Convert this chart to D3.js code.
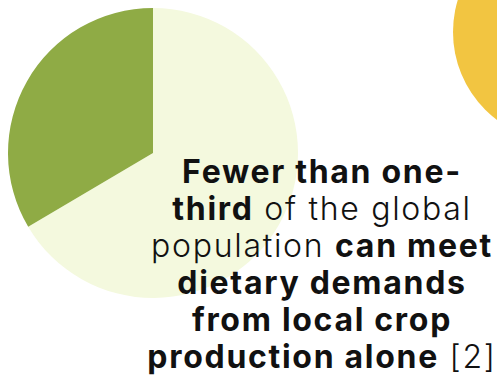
<!DOCTYPE html>
<html>
<head>
<meta charset="utf-8">
<script src="https://cdn.jsdelivr.net/npm/d3@7"></script>
<style>
  html, body { margin: 0; padding: 0; background: #ffffff; }
  svg { display: block; }
</style>
</head>
<body>
<svg id="chart" width="497" height="378"></svg>
<script>
// Share of the global population, by whether local crop production meets dietary demand
const categories = ["Cannot meet demand locally", "Can meet demand locally"];
const shares = [66.5, 33.5];
const sliceColors = ["#f4f9de", "#8fab45"];

// Caption lines; each segment is [text, bold?]
const captionLines = [
  [["Fewer than one-", true]],
  [["third", true], [" of the global", false]],
  [["population ", false], ["can meet", true]],
  [["dietary demands", true]],
  [["from local crop", true]],
  [["production alone", true], [" [2]", false]]
];

const svg = d3.select("#chart");

// Decorative accent circle at the top-right corner
svg.append("circle")
  .attr("cx", 563).attr("cy", 32).attr("r", 110)
  .attr("fill", "#f2c541");

// Pie
const cx = 153, cy = 153, radius = 145;
const pie = d3.pie().sort(null).value(d => d.value);
const arc = d3.arc().innerRadius(0).outerRadius(radius);
const data = categories.map((c, i) => ({ name: c, value: shares[i] }));

const color = d3.scaleOrdinal().domain(categories).range(sliceColors);

svg.append("g")
  .attr("transform", `translate(${cx},${cy})`)
  .selectAll("path")
  .data(pie(data))
  .join("path")
  .attr("d", arc)
  .attr("fill", d => color(d.data.name));

// Caption
const textX = 322, firstBaseline = 183, lineGap = 37;
const caption = svg.append("text")
  .attr("text-anchor", "middle")
  .attr("font-family", "Inter, 'Open Sans', sans-serif")
  .attr("font-size", 32)
  .attr("letter-spacing", 1.7)
  .style("font-variant-ligatures", "none")
  .attr("fill", "#111111");

captionLines.forEach((segments, i) => {
  const line = caption.append("tspan")
    .attr("x", textX)
    .attr("y", firstBaseline + i * lineGap);
  segments.forEach(([t, bold]) => {
    line.append("tspan")
      .attr("font-weight", bold ? 700 : 300)
      .text(t);
  });
});
</script>
</body>
</html>
